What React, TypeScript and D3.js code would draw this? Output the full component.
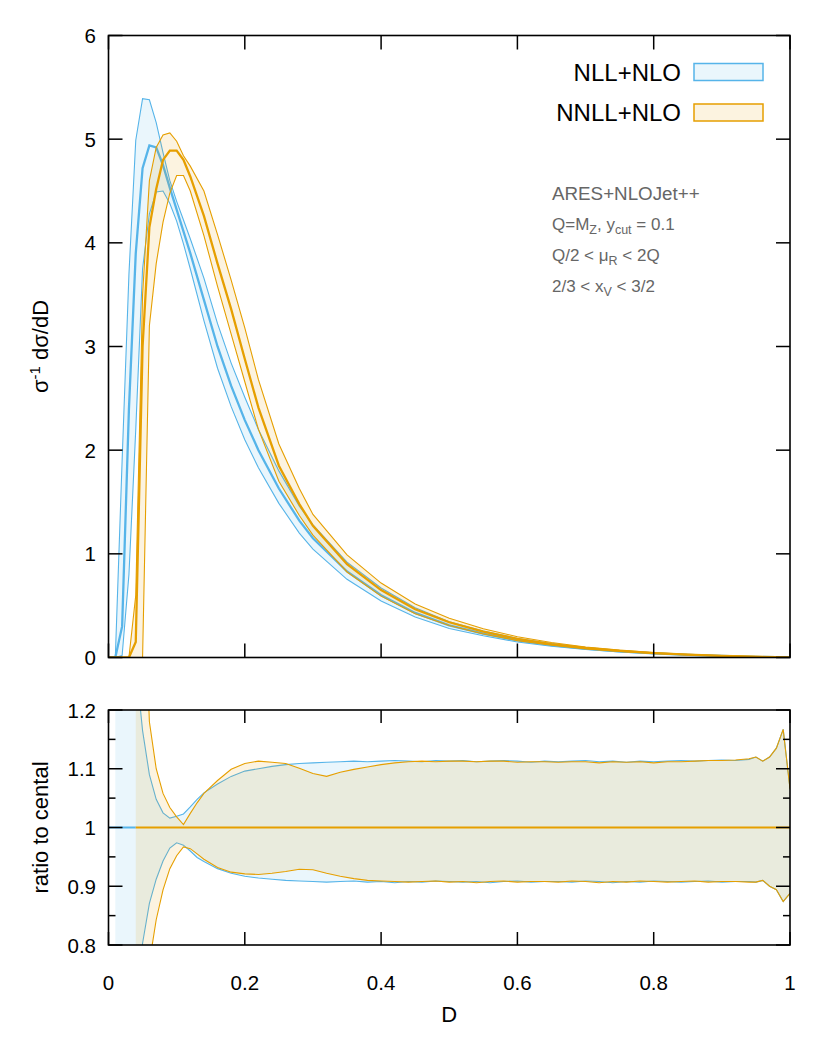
import React from "react";
import * as d3 from "d3";

// ---------- Top panel data (sigma^-1 dsigma/dD vs D) ----------
const D_TOP = [0, 0.01, 0.02, 0.03, 0.04, 0.05, 0.06, 0.07, 0.08, 0.09, 0.10, 0.11, 0.12, 0.14, 0.16, 0.18, 0.20, 0.22, 0.25, 0.28, 0.30, 0.35, 0.40, 0.45, 0.50, 0.55, 0.60, 0.65, 0.70, 0.75, 0.80, 0.85, 0.90, 0.95, 1.00];

const NLL_CENTRAL = [0, 0, 0.3, 2.4, 3.9, 4.72, 4.94, 4.92, 4.75, 4.53, 4.32, 4.11, 3.9, 3.45, 3.0, 2.62, 2.29, 2.0, 1.63, 1.32, 1.15, 0.83, 0.6, 0.43, 0.31, 0.23, 0.165, 0.12, 0.085, 0.06, 0.04, 0.026, 0.015, 0.006, 0];
const NLL_UPPER = [0, 0, 1.9, 3.7, 4.99, 5.39, 5.38, 5.16, 4.87, 4.6, 4.4, 4.22, 4.04, 3.66, 3.22, 2.84, 2.51, 2.2, 1.8, 1.46, 1.28, 0.92, 0.67, 0.48, 0.345, 0.256, 0.184, 0.134, 0.095, 0.067, 0.045, 0.029, 0.017, 0.007, 0];
const NLL_LOWER = [0, 0, 0.02, 0.8, 2.2, 3.75, 4.28, 4.49, 4.5, 4.38, 4.21, 3.99, 3.75, 3.25, 2.79, 2.42, 2.1, 1.83, 1.487, 1.2, 1.045, 0.754, 0.545, 0.39, 0.28, 0.209, 0.15, 0.109, 0.077, 0.054, 0.036, 0.024, 0.014, 0.005, 0];

const NNLL_CENTRAL = [0, 0, 0, 0, 0.15, 3.0, 4.15, 4.52, 4.8, 4.89, 4.89, 4.8, 4.64, 4.26, 3.8, 3.36, 2.88, 2.41, 1.85, 1.48, 1.27, 0.9, 0.65, 0.465, 0.34, 0.25, 0.18, 0.13, 0.092, 0.064, 0.043, 0.028, 0.016, 0.007, 0];
const NNLL_UPPER = [0, 0, 0, 0, 0.6, 3.5, 4.6, 4.92, 5.04, 5.06, 4.98, 4.84, 4.74, 4.5, 4.08, 3.64, 3.18, 2.68, 2.06, 1.63, 1.38, 0.99, 0.718, 0.517, 0.378, 0.278, 0.2, 0.145, 0.102, 0.071, 0.048, 0.031, 0.018, 0.008, 0];
const NNLL_LOWER = [0, 0, 0, 0, 0, 0, 3.2, 3.8, 4.2, 4.48, 4.65, 4.65, 4.5, 4.07, 3.58, 3.12, 2.66, 2.2, 1.7, 1.37, 1.18, 0.825, 0.592, 0.422, 0.309, 0.227, 0.163, 0.118, 0.083, 0.058, 0.039, 0.025, 0.015, 0.006, 0];

// ---------- Ratio panel data (ratio to central) ----------
const D_RATIO = [0.01, 0.02, 0.03, 0.04, 0.05, 0.06, 0.07, 0.08, 0.09, 0.10, 0.11, 0.12, 0.13, 0.14, 0.16, 0.18, 0.20, 0.22, 0.24, 0.26, 0.28, 0.30, 0.32, 0.34, 0.36, 0.38, 0.40, 0.42, 0.44, 0.46, 0.48, 0.50, 0.52, 0.54, 0.56, 0.58, 0.60, 0.62, 0.64, 0.66, 0.68, 0.70, 0.72, 0.74, 0.76, 0.78, 0.80, 0.82, 0.84, 0.86, 0.88, 0.90, 0.92, 0.94, 0.95, 0.96, 0.97, 0.98, 0.99, 1.00];

const NLL_RATIO_UP = [3.0, 6.0, 1.6, 1.28, 1.165, 1.09, 1.048, 1.025, 1.016, 1.019, 1.023, 1.035, 1.048, 1.059, 1.074, 1.087, 1.096, 1.1, 1.104, 1.107, 1.109, 1.11, 1.111, 1.112, 1.113, 1.112, 1.113, 1.114, 1.113, 1.112, 1.114, 1.113, 1.114, 1.112, 1.113, 1.114, 1.113, 1.111, 1.113, 1.112, 1.113, 1.114, 1.112, 1.113, 1.111, 1.113, 1.112, 1.113, 1.114, 1.113, 1.114, 1.115, 1.114, 1.116, 1.12, 1.113, 1.12, 1.135, 1.167, 1.066];
const NLL_RATIO_DN = [0, 0.05, 0.35, 0.56, 0.803, 0.871, 0.912, 0.943, 0.965, 0.974, 0.97, 0.96, 0.949, 0.942, 0.93, 0.922, 0.917, 0.914, 0.912, 0.91, 0.909, 0.908, 0.907, 0.908, 0.909, 0.907, 0.908, 0.906, 0.908, 0.907, 0.909, 0.908, 0.907, 0.908, 0.906, 0.908, 0.909, 0.907, 0.908, 0.908, 0.907, 0.909, 0.908, 0.906, 0.908, 0.907, 0.909, 0.908, 0.907, 0.908, 0.909, 0.907, 0.908, 0.908, 0.907, 0.91, 0.9, 0.894, 0.874, 0.888];

const NNLL_RATIO_UP = [NaN, NaN, NaN, 4.0, 1.5, 1.18, 1.1, 1.058, 1.034, 1.018, 1.005, 1.024, 1.042, 1.058, 1.08, 1.099, 1.109, 1.113, 1.111, 1.109, 1.101, 1.092, 1.087, 1.094, 1.099, 1.103, 1.107, 1.11, 1.112, 1.113, 1.112, 1.113, 1.113, 1.112, 1.113, 1.113, 1.111, 1.112, 1.112, 1.111, 1.112, 1.112, 1.11, 1.112, 1.111, 1.112, 1.11, 1.112, 1.112, 1.113, 1.114, 1.114, 1.115, 1.117, 1.12, 1.113, 1.12, 1.135, 1.167, 1.066];
const NNLL_RATIO_DN = [NaN, NaN, NaN, 0, 0, 0.77, 0.843, 0.894, 0.93, 0.952, 0.967, 0.964, 0.955, 0.946, 0.932, 0.924, 0.921, 0.92, 0.922, 0.925, 0.929, 0.928, 0.922, 0.917, 0.913, 0.91, 0.909, 0.908, 0.907, 0.908, 0.909, 0.907, 0.908, 0.906, 0.908, 0.909, 0.907, 0.908, 0.908, 0.907, 0.909, 0.908, 0.906, 0.908, 0.907, 0.909, 0.908, 0.907, 0.908, 0.909, 0.907, 0.908, 0.908, 0.907, 0.907, 0.91, 0.9, 0.894, 0.874, 0.888];

// ---------- Axes ----------
const X_TICKS = [0, 0.2, 0.4, 0.6, 0.8, 1];
const X_TICK_LABELS = ["0", "0.2", "0.4", "0.6", "0.8", "1"];
const Y_TOP_TICKS = [0, 1, 2, 3, 4, 5, 6];
const Y_BOT_TICKS = [0.8, 0.9, 1.0, 1.1, 1.2];
const Y_BOT_TICK_LABELS = ["0.8", "0.9", "1", "1.1", "1.2"];
const Y_BOT_MINOR = [0.85, 0.95, 1.05, 1.15];

const SERIES = ["NLL+NLO", "NNLL+NLO"];
const BLUE = "#56B4E9";
const ORANGE = "#E69F00";
const FILL_OPACITY = 0.12;
const FONT = "'Liberation Sans', Arial, Helvetica, sans-serif";

export default function App() {
  const W = 830, H = 1038;
  const x = d3.scaleLinear().domain([0, 1]).range([108.5, 790]);
  const yTop = d3.scaleLinear().domain([0, 6]).range([657.5, 35.5]);
  const yBot = d3.scaleLinear().domain([0.8, 1.2]).range([945, 710]);

  const topArea = (lo: number[], hi: number[]) =>
    d3.area<number>()
      .x((_, i) => x(D_TOP[i]))
      .y0((_, i) => yTop(lo[i]))
      .y1((_, i) => yTop(hi[i]))(D_TOP) || "";
  const topLine = (v: number[]) =>
    d3.line<number>().x((_, i) => x(D_TOP[i])).y((_, i) => yTop(v[i]))(D_TOP) || "";

  const botArea = (lo: number[], hi: number[]) =>
    d3.area<number>()
      .defined((_, i) => !isNaN(lo[i]) && !isNaN(hi[i]))
      .x((_, i) => x(D_RATIO[i]))
      .y0((_, i) => yBot(lo[i]))
      .y1((_, i) => yBot(hi[i]))(D_RATIO) || "";
  const botLine = (v: number[]) =>
    d3.line<number>()
      .defined((_, i) => !isNaN(v[i]))
      .x((_, i) => x(D_RATIO[i]))
      .y((_, i) => yBot(v[i]))(D_RATIO) || "";

  const nnllStart = D_RATIO[NNLL_RATIO_UP.findIndex((v) => !isNaN(v))];

  const tl = 14;
  const [xl, xr] = x.range();
  const [ty0, ty1] = yTop.range();
  const [by0, by1] = yBot.range();
  const TICK_FS = 20.5;
  const TITLE_FS = 22;

  return (
    <svg width={W} height={H} style={{ position: "absolute", left: 0, top: 0, background: "#fff" }} fontFamily={FONT}>
      <defs>
        <clipPath id="clipTop"><rect x={xl} y={ty1} width={xr - xl} height={ty0 - ty1} /></clipPath>
        <clipPath id="clipBot"><rect x={xl} y={by1} width={xr - xl} height={by0 - by1} /></clipPath>
      </defs>
      <rect x={0} y={0} width={W} height={H} fill="#fff" />

      {/* ---------- Top panel ---------- */}
      <g clipPath="url(#clipTop)">
        <path d={topArea(NLL_LOWER, NLL_UPPER)} fill={BLUE} fillOpacity={FILL_OPACITY} />
        <path d={topLine(NLL_UPPER)} fill="none" stroke={BLUE} strokeWidth={1.1} />
        <path d={topLine(NLL_LOWER)} fill="none" stroke={BLUE} strokeWidth={1.1} />
        <path d={topLine(NLL_CENTRAL)} fill="none" stroke={BLUE} strokeWidth={2.3} />
        <path d={topArea(NNLL_LOWER, NNLL_UPPER)} fill={ORANGE} fillOpacity={FILL_OPACITY} />
        <path d={topLine(NNLL_UPPER)} fill="none" stroke={ORANGE} strokeWidth={1.1} />
        <path d={topLine(NNLL_LOWER)} fill="none" stroke={ORANGE} strokeWidth={1.1} />
        <path d={topLine(NNLL_CENTRAL)} fill="none" stroke={ORANGE} strokeWidth={2.3} />
      </g>
      <rect x={xl} y={ty1} width={xr - xl} height={ty0 - ty1} fill="none" stroke="#000" strokeWidth={1.6} />
      {X_TICKS.map((t) => (
        <g key={"tx" + t}>
          <line x1={x(t)} x2={x(t)} y1={ty0} y2={ty0 - tl} stroke="#000" strokeWidth={1.5} />
          <line x1={x(t)} x2={x(t)} y1={ty1} y2={ty1 + tl} stroke="#000" strokeWidth={1.5} />
        </g>
      ))}
      {Y_TOP_TICKS.map((t) => (
        <g key={"ty" + t}>
          <line x1={xl} x2={xl + tl} y1={yTop(t)} y2={yTop(t)} stroke="#000" strokeWidth={1.5} />
          <line x1={xr} x2={xr - tl} y1={yTop(t)} y2={yTop(t)} stroke="#000" strokeWidth={1.5} />
          <text x={96} y={yTop(t) + 7.5} textAnchor="end" fontSize={TICK_FS}>{t}</text>
        </g>
      ))}
      <text transform={`translate(48,${(ty0 + ty1) / 2}) rotate(-90)`} textAnchor="middle" fontSize={TITLE_FS}>
        σ<tspan dy={-8} fontSize={15}>-1</tspan><tspan dy={8}> dσ/dD</tspan>
      </text>

      {/* Legend */}
      {SERIES.map((s, i) => {
        const c = i === 0 ? BLUE : ORANGE;
        const yc = 72 + i * 40.5;
        return (
          <g key={s}>
            <text x={681} y={yc + 8.5} textAnchor="end" fontSize={24}>{s}</text>
            <rect x={694} y={yc - 8.5} width={69} height={17} fill={c} fillOpacity={FILL_OPACITY} stroke={c} strokeWidth={1.5} />
          </g>
        );
      })}

      {/* Annotation */}
      <g fill="#666">
        <text x={552} y={199.5} fontSize={18.8}>ARES+NLOJet++</text>
        <text x={552} y={230} fontSize={17}>Q=M<tspan dy={4} fontSize={12.5}>Z</tspan><tspan dy={-4}>, y</tspan><tspan dy={4} fontSize={12.5}>cut</tspan><tspan dy={-4}> = 0.1</tspan></text>
        <text x={552} y={261} fontSize={17}>Q/2 &lt; μ<tspan dy={4} fontSize={12.5}>R</tspan><tspan dy={-4}> &lt; 2Q</tspan></text>
        <text x={552} y={292} fontSize={17}>2/3 &lt; x<tspan dy={4} fontSize={12.5}>V</tspan><tspan dy={-4}> &lt; 3/2</tspan></text>
      </g>

      {/* ---------- Ratio panel ---------- */}
      <g clipPath="url(#clipBot)">
        <path d={botArea(NLL_RATIO_DN, NLL_RATIO_UP)} fill={BLUE} fillOpacity={FILL_OPACITY} />
        <path d={botLine(NLL_RATIO_UP)} fill="none" stroke={BLUE} strokeWidth={1.1} />
        <path d={botLine(NLL_RATIO_DN)} fill="none" stroke={BLUE} strokeWidth={1.1} />
        <line x1={x(0)} x2={x(nnllStart)} y1={yBot(1)} y2={yBot(1)} stroke={BLUE} strokeWidth={2} />
        <path d={botArea(NNLL_RATIO_DN, NNLL_RATIO_UP)} fill={ORANGE} fillOpacity={FILL_OPACITY} />
        <path d={botLine(NNLL_RATIO_UP)} fill="none" stroke={ORANGE} strokeWidth={1.1} />
        <path d={botLine(NNLL_RATIO_DN)} fill="none" stroke={ORANGE} strokeWidth={1.1} />
        <line x1={x(nnllStart)} x2={x(1)} y1={yBot(1)} y2={yBot(1)} stroke={ORANGE} strokeWidth={2} />
      </g>
      <rect x={xl} y={by1} width={xr - xl} height={by0 - by1} fill="none" stroke="#000" strokeWidth={1.6} />
      {X_TICKS.map((t, i) => (
        <g key={"bx" + t}>
          <line x1={x(t)} x2={x(t)} y1={by0} y2={by0 - 13} stroke="#000" strokeWidth={1.5} />
          <line x1={x(t)} x2={x(t)} y1={by1} y2={by1 + 13} stroke="#000" strokeWidth={1.5} />
          <text x={x(t)} y={990} textAnchor="middle" fontSize={TICK_FS}>{X_TICK_LABELS[i]}</text>
        </g>
      ))}
      {Y_BOT_TICKS.map((t, i) => (
        <g key={"by" + t}>
          <line x1={xl} x2={xl + tl} y1={yBot(t)} y2={yBot(t)} stroke="#000" strokeWidth={1.5} />
          <line x1={xr} x2={xr - tl} y1={yBot(t)} y2={yBot(t)} stroke="#000" strokeWidth={1.5} />
          <text x={96} y={yBot(t) + 7.5} textAnchor="end" fontSize={TICK_FS}>{Y_BOT_TICK_LABELS[i]}</text>
        </g>
      ))}
      {Y_BOT_MINOR.map((t) => (
        <g key={"bm" + t}>
          <line x1={xl} x2={xl + 7} y1={yBot(t)} y2={yBot(t)} stroke="#000" strokeWidth={1.5} />
          <line x1={xr} x2={xr - 7} y1={yBot(t)} y2={yBot(t)} stroke="#000" strokeWidth={1.5} />
        </g>
      ))}
      <text transform={`translate(48,${(by0 + by1) / 2}) rotate(-90)`} textAnchor="middle" fontSize={TITLE_FS}>ratio to cental</text>
      <text x={(xl + xr) / 2} y={1022} textAnchor="middle" fontSize={TITLE_FS}>D</text>
    </svg>
  );
}
